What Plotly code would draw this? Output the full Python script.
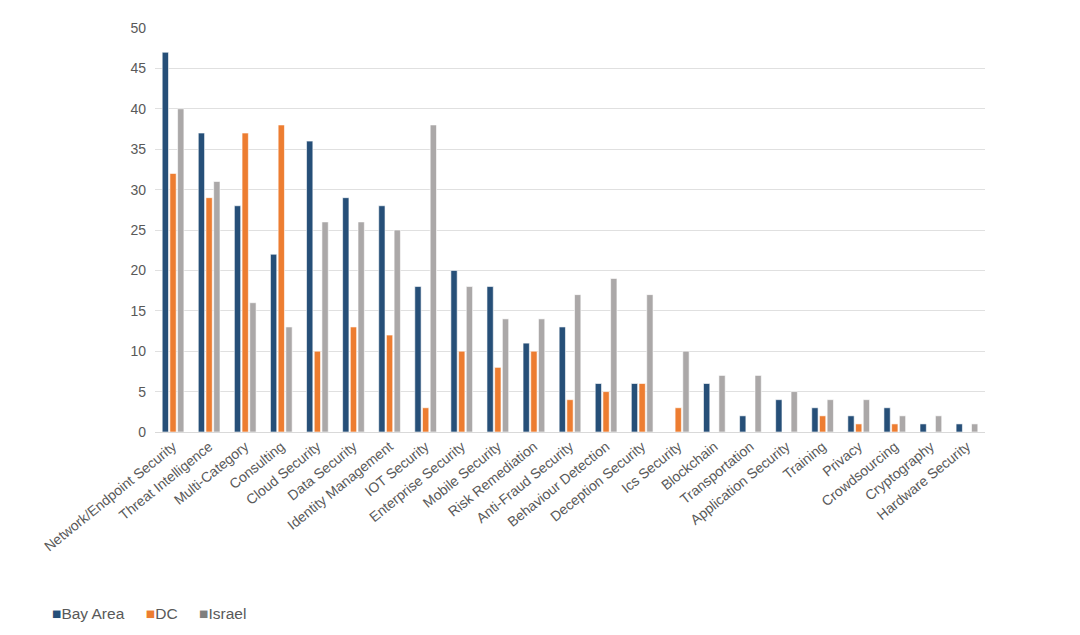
import plotly.graph_objects as go

categories = ["Network/Endpoint Security", "Threat Intelligence", "Multi-Category", "Consulting",
              "Cloud Security", "Data Security", "Identity Management", "IOT Security",
              "Enterprise Security", "Mobile Security", "Risk Remediation", "Anti-Fraud Security",
              "Behaviour Detection", "Deception Security", "Ics Security", "Blockchain",
              "Transportation", "Application Security", "Training", "Privacy", "Crowdsourcing",
              "Cryptography", "Hardware Security"]
bay_area = [47, 37, 28, 22, 36, 29, 28, 18, 20, 18, 11, 13, 6, 6, 0, 6, 2, 4, 3, 2, 3, 1, 1]
dc = [32, 29, 37, 38, 10, 13, 12, 3, 10, 8, 10, 4, 5, 6, 3, 0, 0, 0, 2, 1, 1, 0, 0]
israel = [40, 31, 16, 13, 26, 26, 25, 38, 18, 14, 14, 17, 19, 17, 10, 7, 7, 5, 4, 4, 2, 2, 1]
y_ticks = [0, 5, 10, 15, 20, 25, 30, 35, 40, 45, 50]

series = [("Bay Area", bay_area, "#264F78"), ("DC", dc, "#ED7D31"), ("Israel", israel, "#ABA8A8")]
legend_colors = {"Bay Area": "#264F78", "DC": "#ED7D31", "Israel": "#7F7F7F"}

font = "Liberation Sans, Arial, sans-serif"
fig = go.Figure()
for name, vals, col in series:
    fig.add_trace(go.Bar(x=categories, y=vals, name=name,
                         marker=dict(color=col, line=dict(color="white", width=0.6))))

legend_text = "&nbsp;&nbsp;&nbsp;&nbsp;&nbsp;".join(
    f"<span style='color:{legend_colors[n]}'>■</span>{n}" for n, _, _ in series)

fig.update_layout(
    width=1080, height=635,
    paper_bgcolor="white", plot_bgcolor="white",
    barmode="group", bargap=0.36, bargroupgap=0.18,
    margin=dict(l=147, r=103, t=17, b=211),
    font=dict(family=font, size=14, color="#595959"),
    xaxis=dict(tickangle=-39, showgrid=False, showline=True, linecolor="#D9D9D9", linewidth=1,
               tickfont=dict(size=14, color="#595959")),
    yaxis=dict(range=[0, 50], tickvals=y_ticks, showgrid=True, gridcolor="#E0E0E0", gridwidth=1,
               zeroline=False, ticks="", tickfont=dict(size=14, color="#595959"), ticklabelstandoff=8),
    showlegend=False,
    annotations=[dict(text=legend_text, xref="paper", yref="paper", x=-0.127, y=-0.45,
                      xanchor="left", yanchor="middle", showarrow=False,
                      font=dict(size=15.5, color="#595959", family=font))],
)
fig.write_html("out.html")
